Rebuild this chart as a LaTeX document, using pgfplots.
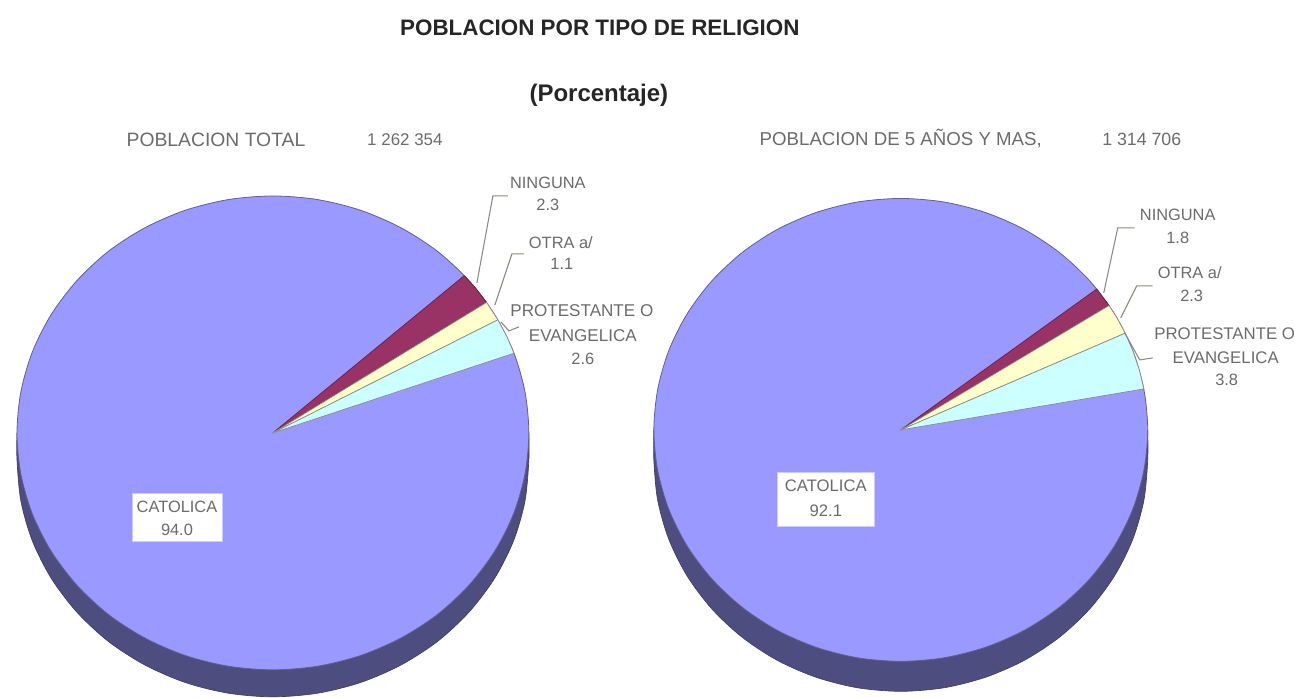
\documentclass[border=0pt]{standalone}
\usepackage{pgfplots}
\pgfplotsset{compat=1.18}
\usepackage{fontspec}
\setmainfont{Liberation Sans}
\definecolor{cat}{HTML}{9999FF}
\definecolor{catside}{HTML}{4D4D80}
\definecolor{nin}{HTML}{993366}
\definecolor{otr}{HTML}{FFFFCC}
\definecolor{pro}{HTML}{CCFFFF}
\definecolor{edge}{HTML}{5F5F90}
\definecolor{lead}{HTML}{8A8A80}
\newcommand{\lab}[4][12.3]{\node[font=\fontsize{#1}{#1}\selectfont,text=black!58,inner sep=0pt,anchor=center] at (axis cs:#2,#3) {#4};}
\begin{document}
\begin{tikzpicture}
\begin{axis}[
  scale only axis,width=971.25pt,height=523.5pt,
  xmin=0,xmax=1295,ymin=0,ymax=698,y dir=reverse,
  axis lines=none,clip=false]
\path (axis cs:0,0) rectangle (axis cs:1295,698);
% ---- left pie: side
\addplot[smooth,fill=catside,draw=catside!80!black,line width=.5pt] coordinates {(17,433)(17,460)(20.9,501.2)(32.4,541.1)(51.3,578.5)(76.9,612.3)(108.4,641.6)(145,665.2)(185.4,682.7)(228.5,693.4)(273,697)(317.5,693.4)(360.6,682.7)(401,665.2)(437.6,641.6)(469.1,612.3)(494.7,578.5)(513.6,541.1)(525.1,501.2)(529,460)(529,433)} --cycle;
% CATOLICA 94.0 (whole top face, the other slices are laid over it)
\addplot[smooth cycle,fill=cat,draw=edge,line width=.6pt] coordinates {(529,433)(525.1,391.8)(513.6,351.9)(494.7,314.5)(469.1,280.7)(437.6,251.4)(401,227.8)(360.6,210.3)(317.5,199.6)(273,196)(228.5,199.6)(185.4,210.3)(145,227.8)(108.4,251.4)(76.9,280.7)(51.3,314.5)(32.4,351.9)(20.9,391.8)(17,433)(20.9,474.2)(32.4,514.1)(51.3,551.5)(76.9,585.3)(108.4,614.6)(145,638.2)(185.4,655.7)(228.5,666.4)(273,670)(317.5,666.4)(360.6,655.7)(401,638.2)(437.6,614.6)(469.1,585.3)(494.7,551.5)(513.6,514.1)(525.1,474.2)};
% NINGUNA 2.3
\addplot[fill=nin,draw=nin!70!black,line width=.6pt] coordinates {(273,433)(486.7,302.5)(476.1,288.7)(464.4,275.7)} --cycle;
% OTRA 1.1
\addplot[fill=otr,draw=lead,line width=.5pt] coordinates {(273,433)(498,319.9)(486.7,302.5)} --cycle;
% PROTESTANTE 2.6
\addplot[fill=pro,draw=lead,line width=.5pt] coordinates {(273,433)(514.1,353.3)(506.9,336.6)(498,319.9)} --cycle;
% ---- right pie: side
\addplot[smooth,fill=catside,draw=catside!80!black,line width=.5pt] coordinates {(654,430)(654,460)(657.8,500.2)(668.9,539.2)(687.1,575.8)(711.8,608.8)(742.2,637.3)(777.5,660.5)(816.5,677.5)(858.1,688)(901,691.5)(943.9,688)(985.5,677.5)(1024.5,660.5)(1059.8,637.3)(1090.2,608.8)(1114.9,575.8)(1133.1,539.2)(1144.2,500.2)(1148,460)(1148,430)} --cycle;
% CATOLICA 92.1
\addplot[smooth cycle,fill=cat,draw=edge,line width=.6pt] coordinates {(1148,430)(1144.2,389.8)(1133.1,350.8)(1114.9,314.2)(1090.2,281.2)(1059.8,252.7)(1024.5,229.5)(985.5,212.5)(943.9,202)(901,198.5)(858.1,202)(816.5,212.5)(777.5,229.5)(742.2,252.7)(711.8,281.2)(687.1,314.2)(668.9,350.8)(657.8,389.8)(654,430)(657.8,470.2)(668.9,509.2)(687.1,545.8)(711.8,578.8)(742.2,607.3)(777.5,630.5)(816.5,647.5)(858.1,658)(901,661.5)(943.9,658)(985.5,647.5)(1024.5,630.5)(1059.8,607.3)(1090.2,578.8)(1114.9,545.8)(1133.1,509.2)(1144.2,470.2)};
% NINGUNA 1.8
\addplot[fill=nin,draw=nin!70!black,line width=.6pt] coordinates {(901,430)(1109.3,305.6)(1097,289.1)} --cycle;
% OTRA 2.3
\addplot[fill=otr,draw=lead,line width=.5pt] coordinates {(901,430)(1125.4,333.3)(1117.9,319.2)(1109.3,305.6)} --cycle;
% PROTESTANTE 3.8
\addplot[fill=pro,draw=lead,line width=.5pt] coordinates {(901,430)(1144.1,389)(1139.6,370.1)(1133.1,350.8)(1125.4,333.3)} --cycle;
% ---- leader lines
\addplot[draw=lead,line width=.8pt] coordinates {(508,196)(493,196)(477,283)};
\addplot[draw=lead,line width=.8pt] coordinates {(524,254)(512,254)(495,305)};
\addplot[draw=lead,line width=.8pt] coordinates {(519,327)(509,331)(501,322)};
\addplot[draw=lead,line width=.8pt] coordinates {(1135,228)(1118,228)(1104,293)};
\addplot[draw=lead,line width=.8pt] coordinates {(1153,286)(1137,286)(1121,318)};
\addplot[draw=lead,line width=.8pt] coordinates {(1153,358)(1140,360)(1125,333)};
% ---- white label boxes
\addplot[fill=white,draw=cat!50!white,line width=.6pt] coordinates {(132,494)(222,494)(222,542)(132,542)} --cycle;
\addplot[fill=white,draw=cat!50!white,line width=.6pt] coordinates {(778,473)(875,473)(875,527)(778,527)} --cycle;
% ---- titles
\node[font=\fontsize{16.8}{16.8}\selectfont\bfseries,text=black!85,inner sep=0pt] at (axis cs:600,28) {POBLACION POR TIPO DE RELIGION};
\node[font=\fontsize{18}{18}\selectfont\bfseries,text=black!85,inner sep=0pt] at (axis cs:599,95) {(Porcentaje)};
\lab[14.5]{216}{140}{POBLACION TOTAL}
\lab[12.7]{405}{140}{1 262 354}
\lab[14]{901}{139}{POBLACION DE 5 AÑOS Y MAS,}
\lab[13.3]{1142}{139}{1 314 706}
% ---- left pie labels
\lab{548}{183}{NINGUNA}
\lab{548}{205}{2.3}
\lab{561}{243}{OTRA a/}
\lab{562}{264}{1.1}
\lab[12.8]{582}{311}{PROTESTANTE O}
\lab[12.8]{583}{336}{EVANGELICA}
\lab{583}{359}{2.6}
\lab{177}{507}{CATOLICA}
\lab{177}{530}{94.0}
% ---- right pie labels
\lab{1178}{215}{NINGUNA}
\lab{1178}{238}{1.8}
\lab{1190}{273}{OTRA a/}
\lab{1192}{296}{2.3}
\lab[12.6]{1225}{334}{PROTESTANTE O}
\lab[12.6]{1226}{358}{EVANGELICA}
\lab{1227}{380}{3.8}
\lab[12.5]{826}{486}{CATOLICA}
\lab[12.5]{826}{511}{92.1}
\end{axis}
\end{tikzpicture}
\end{document}
